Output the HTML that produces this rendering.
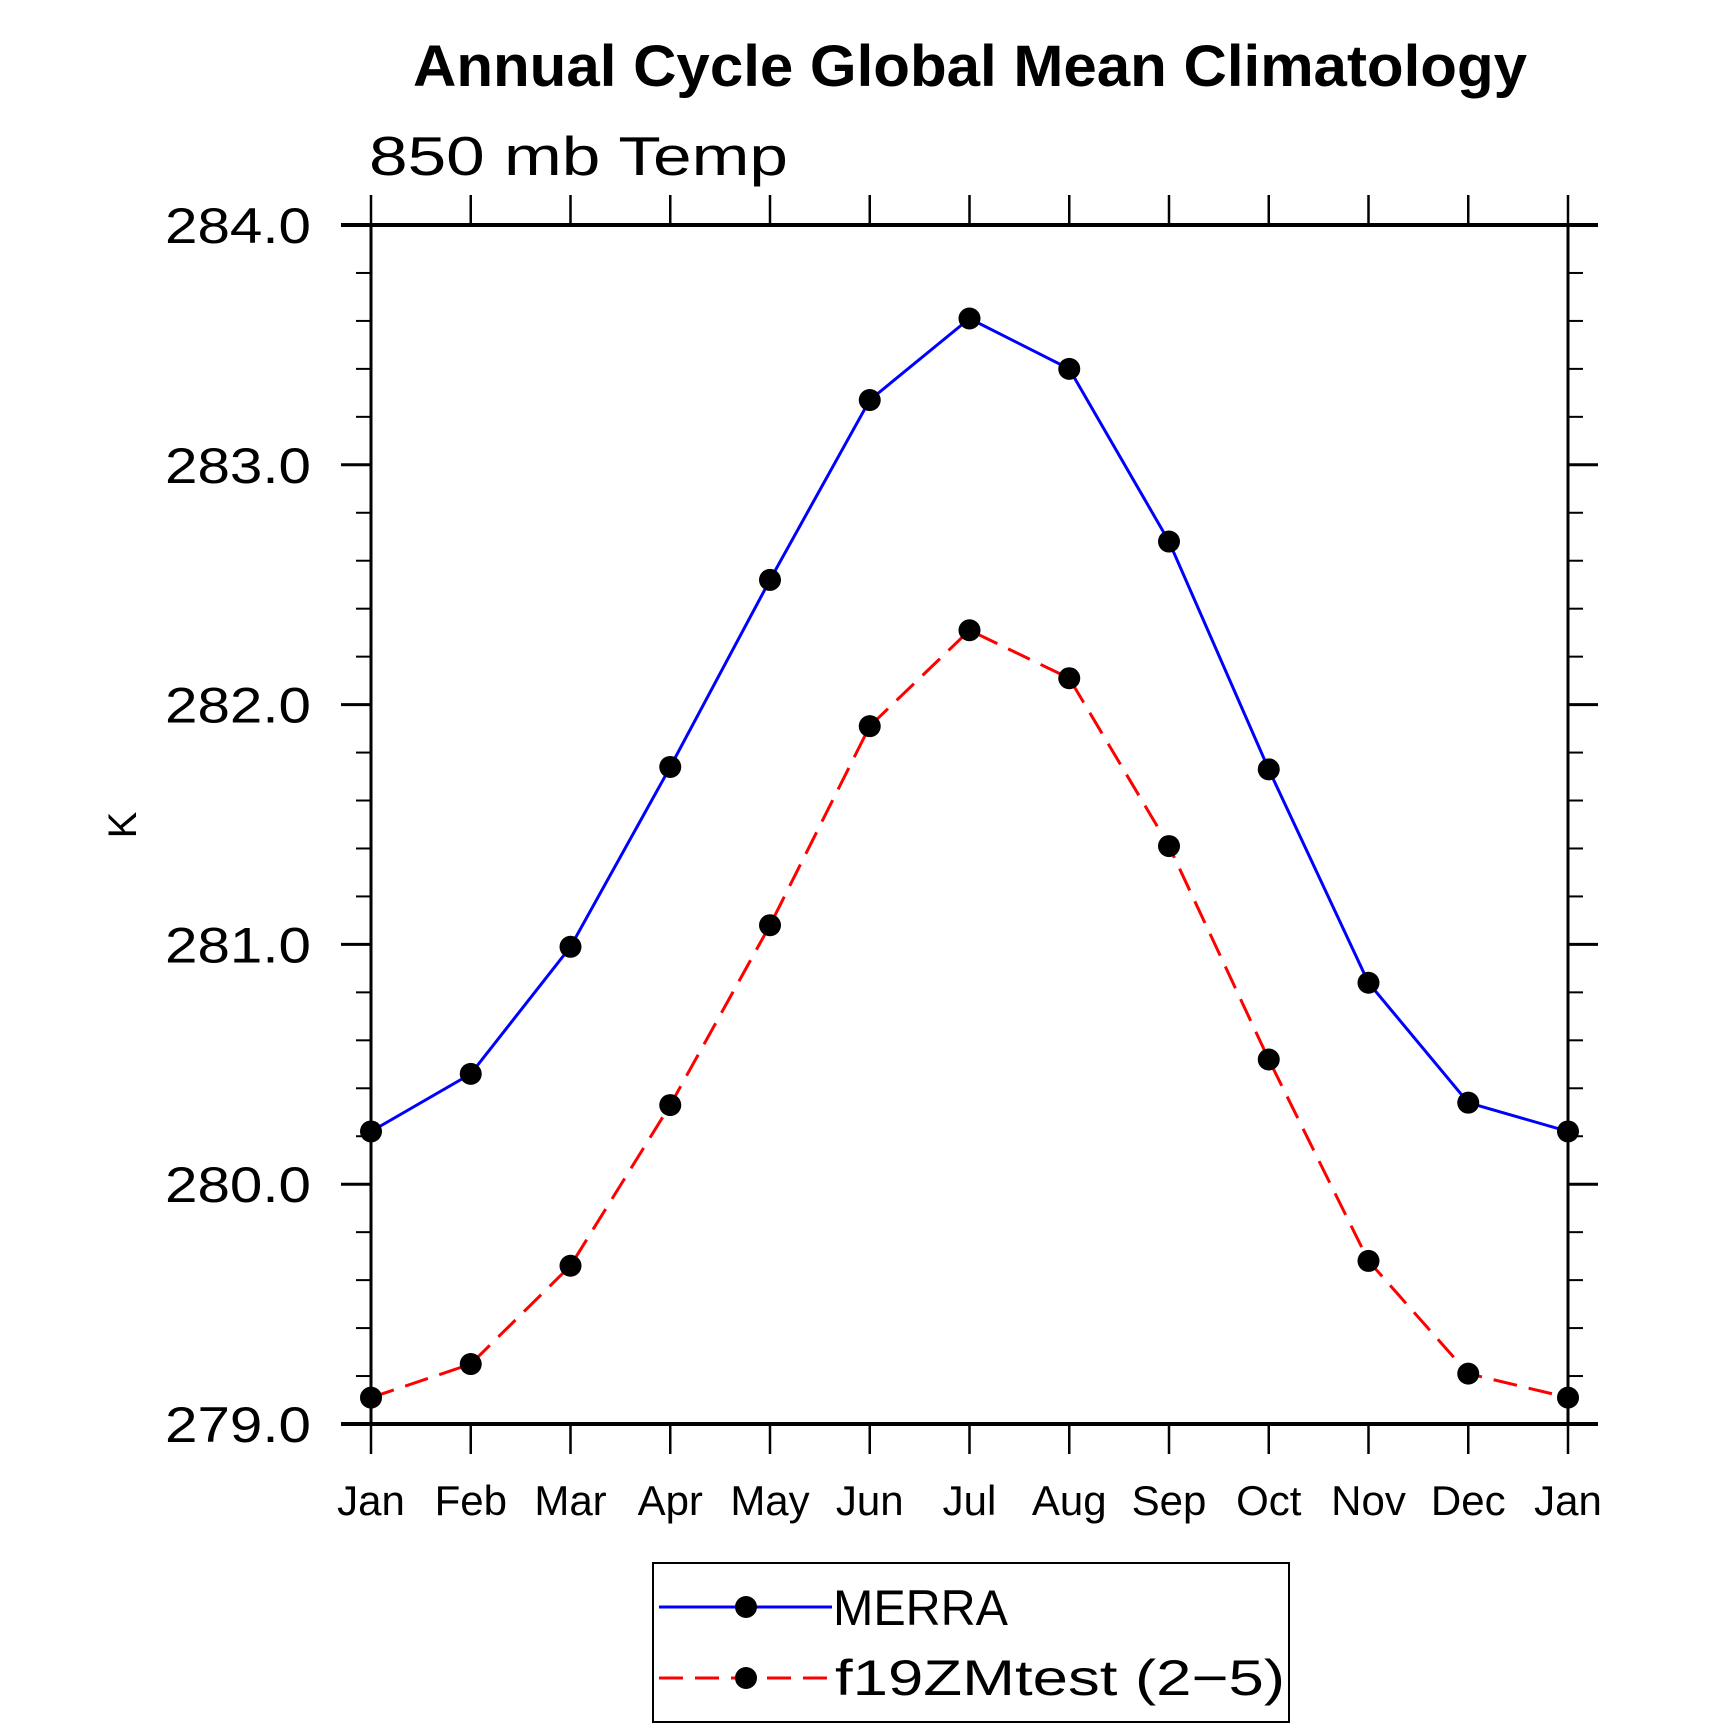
<!DOCTYPE html>
<html><head><meta charset="utf-8"><style>
html,body{margin:0;padding:0;background:#fff;}
svg{display:block;}
text{font-family:"Liberation Sans",sans-serif;}
</style></head><body>
<svg id="chart" width="1710" height="1729" viewBox="0 0 1710 1729" xmlns="http://www.w3.org/2000/svg">
<text x="413" y="86" font-size="58" font-weight="bold" textLength="1114" lengthAdjust="spacingAndGlyphs">Annual Cycle Global Mean Climatology</text>
<text x="369" y="175" font-size="55" textLength="419" lengthAdjust="spacingAndGlyphs">850 mb Temp</text>
<text x="0" y="0" font-size="40" text-anchor="middle" transform="translate(136,825) rotate(-90)">K</text>
<g id="axes"></g>
<g id="series"></g>
<g>
<rect x="653" y="1563" width="636" height="159" fill="none" stroke="#000" stroke-width="2"/>
<g>
<line x1="659" y1="1607" x2="832" y2="1607" stroke="#0000ff" stroke-width="3"/>
<circle cx="746" cy="1607" r="11" fill="#000"/>
<text x="833" y="1625" font-size="50" textLength="175" lengthAdjust="spacingAndGlyphs">MERRA</text>
</g>
<g>
<line x1="659" y1="1678" x2="832" y2="1678" stroke="#ff0000" stroke-width="3" stroke-dasharray="24,12"/>
<circle cx="746" cy="1678" r="11" fill="#000"/>
<text x="835" y="1695" font-size="50" textLength="450" lengthAdjust="spacingAndGlyphs">f19ZMtest (2−5)</text>
</g>
</g>
</svg>
<script>
const months = ["Jan","Feb","Mar","Apr","May","Jun","Jul","Aug","Sep","Oct","Nov","Dec","Jan"];
const merra = [280.22,280.46,280.99,281.74,282.52,283.27,283.61,283.40,282.68,281.73,280.84,280.34,280.22];
const f19 = [279.11,279.25,279.66,280.33,281.08,281.91,282.31,282.11,281.41,280.52,279.68,279.21,279.11];
const yTicks = [279.0,280.0,281.0,282.0,283.0,284.0];
const yMin = 279, yMax = 284;

const NS = "http://www.w3.org/2000/svg";
const L = 371, R = 1568, T = 225, B = 1424;
const xs = i => L + (R - L) * i / (months.length - 1);
const ys = v => B - (B - T) * (v - yMin) / (yMax - yMin);
function mk(tag, attrs, parent){
  const e = document.createElementNS(NS, tag);
  for (const k in attrs) e.setAttribute(k, attrs[k]);
  parent.appendChild(e);
  return e;
}
const axes = document.getElementById('axes');
const ser = document.getElementById('series');
let f = mk('rect', {x:L, y:T, width:R-L, height:B-T, fill:'none', stroke:'#000', 'stroke-width':3}, axes);


let ax = mk('line', {x1:L-30, y1:T, x2:R+30, y2:T, stroke:'#000', 'stroke-width':4}, axes);


ax = mk('line', {x1:L-30, y1:B, x2:R+30, y2:B, stroke:'#000', 'stroke-width':4}, axes);


months.forEach((m, i) => {
  const x = xs(i);
  mk('line', {x1:x, y1:T, x2:x, y2:T-30, stroke:'#000', 'stroke-width':2.5}, axes);
  mk('line', {x1:x, y1:B, x2:x, y2:B+30, stroke:'#000', 'stroke-width':2.5}, axes);
  const t = mk('text', {x:x, y:1515, 'font-size':42, 'text-anchor':'middle'}, axes);
  t.textContent = m;
  
  
});
for (let v = yMin; v <= yMax + 1e-6; v += 0.2) {
  const y = ys(v);
  mk('line', {x1:L-15, y1:y, x2:L, y2:y, stroke:'#000', 'stroke-width':2}, axes);
  mk('line', {x1:R, y1:y, x2:R+15, y2:y, stroke:'#000', 'stroke-width':2}, axes);
}
yTicks.forEach(v => {
  const y = ys(v);
  mk('line', {x1:L-30, y1:y, x2:L, y2:y, stroke:'#000', 'stroke-width':3}, axes);
  mk('line', {x1:R, y1:y, x2:R+30, y2:y, stroke:'#000', 'stroke-width':3}, axes);
  const t = mk('text', {x:311, y:y+18, 'font-size':50, 'text-anchor':'end', textLength:146, lengthAdjust:'spacingAndGlyphs'}, axes);
  t.textContent = v.toFixed(1);
  
  
});
function drawSeries(vals, color, dash, name){
  const pts = vals.map((v, i) => xs(i) + ',' + ys(v)).join(' ');
  const pl = mk('polyline', {points:pts, fill:'none', stroke:color, 'stroke-width':3}, ser);
  if (dash) pl.setAttribute('stroke-dasharray', dash);
  
  
  vals.forEach((v, i) => {
    const c = mk('circle', {cx:xs(i), cy:ys(v), r:11, fill:'#000'}, ser);
    
    
  });
}
drawSeries(merra, '#0000ff', null, 'merra');
drawSeries(f19, '#ff0000', '24,12', 'f19zmtest');
</script>
</body></html>
